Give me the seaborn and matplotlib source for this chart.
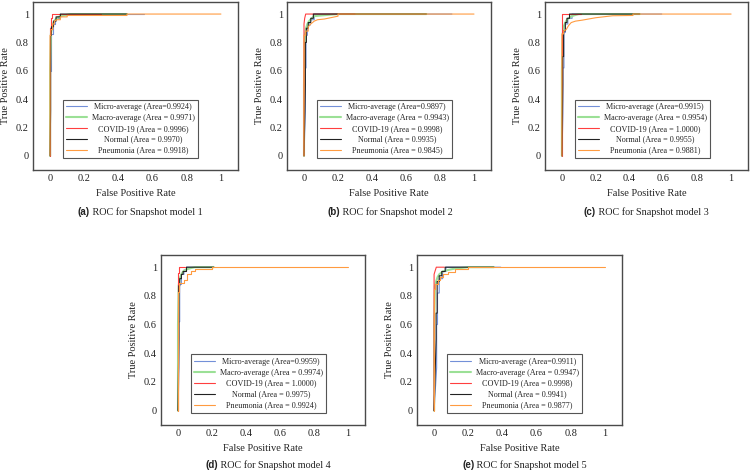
import matplotlib
matplotlib.use("Agg")
import matplotlib.pyplot as plt
import seaborn as sns
from matplotlib.offsetbox import VPacker

# ---------------- data ----------------
CLASS_NAMES = ["Micro-average", "Macro-average", "COVID-19", "Normal", "Pneumonia"]
PANEL_TAGS = ["(a)", "(b)", "(c)", "(d)", "(e)"]
PANEL_TITLES = ["ROC for Snapshot model 1", "ROC for Snapshot model 2", "ROC for Snapshot model 3",
                "ROC for Snapshot model 4", "ROC for Snapshot model 5"]
TICKS = [0, 0.2, 0.4, 0.6, 0.8, 1]
TICK_LABELS = ["0", "0.2", "0.4", "0.6", "0.8", "1"]

AREAS_A = [0.9924, 0.9971, 0.9996, 0.9970, 0.9918]
AREAS_B = [0.9897, 0.9943, 0.9998, 0.9935, 0.9845]
AREAS_C = [0.9915, 0.9954, 1.0000, 0.9955, 0.9881]
AREAS_D = [0.9959, 0.9974, 1.0000, 0.9975, 0.9924]
AREAS_E = [0.9911, 0.9947, 0.9998, 0.9941, 0.9877]

# panel a
A_MICRO_FPR = [0, 0, 0.008, 0.008, 0.015, 0.015, 0.03, 0.03, 0.06, 0.06, 0.1, 0.1, 0.55]
A_MICRO_TPR = [0, 0.6, 0.6, 0.86, 0.86, 0.93, 0.93, 0.97, 0.97, 0.99, 0.99, 1.0, 1.0]
A_MACRO_FPR = [0, 0, 0.005, 0.01, 0.02, 0.03, 0.05, 0.08, 0.12, 0.45]
A_MACRO_TPR = [0, 0.6, 0.86, 0.9, 0.94, 0.96, 0.98, 0.99, 1.0, 1.0]
A_COVID_FPR = [0, 0, 0.004, 0.004, 0.01, 0.01, 0.3]
A_COVID_TPR = [0, 0.9, 0.9, 0.97, 0.97, 1.0, 1.0]
A_NORMAL_FPR = [0, 0.003, 0.003, 0.008, 0.008, 0.02, 0.02, 0.035, 0.035, 0.06, 0.06, 0.45]
A_NORMAL_TPR = [0, 0.32, 0.85, 0.85, 0.91, 0.91, 0.95, 0.95, 0.98, 0.98, 1.0, 1.0]
A_PNEU_FPR = [0, 0, 0.005, 0.005, 0.015, 0.015, 0.025, 0.025, 0.04, 0.06, 0.06, 0.1, 0.1, 0.45, 0.45, 1.0]
A_PNEU_TPR = [0, 0.85, 0.85, 0.89, 0.89, 0.93, 0.93, 0.95, 0.96, 0.96, 0.98, 0.98, 0.99, 0.99, 1.0, 1.0]

# panel b
B_MICRO_FPR = [0, 0.008, 0.008, 0.012, 0.012, 0.02, 0.02, 0.035, 0.035, 0.06, 0.06, 0.87]
B_MICRO_TPR = [0, 0.32, 0.62, 0.62, 0.85, 0.85, 0.92, 0.92, 0.96, 0.96, 1.0, 1.0]
B_MACRO_FPR = [0, 0, 0.005, 0.012, 0.02, 0.03, 0.045, 0.06, 0.1, 0.2, 0.72]
B_MACRO_TPR = [0, 0.5, 0.85, 0.9, 0.93, 0.95, 0.97, 0.985, 0.99, 1.0, 1.0]
B_COVID_FPR = [0, 0, 0.004, 0.01, 0.3]
B_COVID_TPR = [0, 0.93, 0.97, 1.0, 1.0]
B_NORMAL_FPR = [0, 0.008, 0.008, 0.014, 0.014, 0.025, 0.025, 0.04, 0.04, 0.055, 0.055, 0.72]
B_NORMAL_TPR = [0, 0.5, 0.8, 0.8, 0.9, 0.9, 0.94, 0.94, 0.97, 0.97, 1.0, 1.0]
B_PNEU_FPR = [0, 0, 0.01, 0.01, 0.025, 0.025, 0.04, 0.06, 0.08, 0.12, 0.16, 0.2, 0.2, 1.0]
B_PNEU_TPR = [0, 0.85, 0.85, 0.88, 0.88, 0.91, 0.93, 0.95, 0.96, 0.965, 0.975, 0.985, 1.0, 1.0]

# panel c
C_MICRO_FPR = [0, 0.006, 0.006, 0.012, 0.012, 0.02, 0.02, 0.035, 0.035, 0.06, 0.06, 0.59]
C_MICRO_TPR = [0, 0.3, 0.62, 0.62, 0.87, 0.87, 0.93, 0.93, 0.97, 0.97, 1.0, 1.0]
C_MACRO_FPR = [0, 0, 0.005, 0.01, 0.02, 0.03, 0.05, 0.07, 0.1, 0.46]
C_MACRO_TPR = [0, 0.6, 0.86, 0.91, 0.94, 0.96, 0.98, 0.99, 1.0, 1.0]
C_COVID_FPR = [0, 0, 0.003, 0.003, 0.11]
C_COVID_TPR = [0, 0.93, 0.93, 1.0, 1.0]
C_NORMAL_FPR = [0, 0.005, 0.005, 0.01, 0.01, 0.02, 0.02, 0.03, 0.03, 0.045, 0.045, 0.46]
C_NORMAL_TPR = [0, 0.5, 0.7, 0.7, 0.88, 0.88, 0.94, 0.94, 0.97, 0.97, 1.0, 1.0]
C_PNEU_FPR = [0, 0, 0.01, 0.01, 0.025, 0.04, 0.055, 0.08, 0.12, 0.2, 0.3, 0.42, 0.42, 1.0]
C_PNEU_TPR = [0, 0.86, 0.86, 0.88, 0.89, 0.92, 0.94, 0.95, 0.957, 0.974, 0.988, 0.99, 1.0, 1.0]

# panel d
D_MICRO_FPR = [0, 0.006, 0.006, 0.01, 0.01, 0.02, 0.02, 0.035, 0.035, 0.05, 0.05, 0.21]
D_MICRO_TPR = [0, 0.3, 0.62, 0.62, 0.88, 0.88, 0.95, 0.95, 0.98, 0.98, 1.0, 1.0]
D_MACRO_FPR = [0, 0, 0.004, 0.01, 0.02, 0.03, 0.05, 0.08, 0.1, 0.21]
D_MACRO_TPR = [0, 0.6, 0.87, 0.92, 0.95, 0.97, 0.985, 0.995, 1.0, 1.0]
D_COVID_FPR = [0, 0, 0.003, 0.003, 0.04]
D_COVID_TPR = [0, 0.96, 0.96, 1.0, 1.0]
D_NORMAL_FPR = [0, 0.005, 0.005, 0.01, 0.01, 0.02, 0.02, 0.03, 0.03, 0.05, 0.05, 0.21]
D_NORMAL_TPR = [0, 0.5, 0.87, 0.87, 0.92, 0.92, 0.95, 0.95, 0.97, 0.97, 1.0, 1.0]
D_PNEU_FPR = [0, 0, 0.005, 0.005, 0.035, 0.035, 0.055, 0.055, 0.075, 0.075, 0.1, 0.1, 0.2, 0.2, 1.0]
D_PNEU_TPR = [0, 0.83, 0.83, 0.89, 0.89, 0.91, 0.91, 0.95, 0.95, 0.97, 0.97, 0.985, 0.985, 1.0, 1.0]

# panel e
E_MICRO_FPR = [0, 0.015, 0.015, 0.02, 0.02, 0.03, 0.03, 0.05, 0.05, 0.07, 0.07, 0.39]
E_MICRO_TPR = [0, 0.3, 0.6, 0.6, 0.82, 0.82, 0.92, 0.92, 0.97, 0.97, 1.0, 1.0]
E_MACRO_FPR = [0, 0, 0.005, 0.012, 0.02, 0.03, 0.05, 0.08, 0.12, 0.2, 0.35]
E_MACRO_TPR = [0, 0.6, 0.87, 0.9, 0.93, 0.95, 0.97, 0.98, 0.99, 1.0, 1.0]
E_COVID_FPR = [0, 0, 0.005, 0.013, 0.06]
E_COVID_TPR = [0, 0.95, 0.97, 1.0, 1.0]
E_NORMAL_FPR = [0, 0.012, 0.012, 0.018, 0.018, 0.03, 0.03, 0.045, 0.045, 0.065, 0.065, 0.35]
E_NORMAL_TPR = [0, 0.5, 0.68, 0.68, 0.9, 0.9, 0.94, 0.94, 0.97, 0.97, 1.0, 1.0]
E_PNEU_FPR = [0, 0, 0.005, 0.005, 0.02, 0.02, 0.035, 0.035, 0.05, 0.05, 0.08, 0.08, 0.12, 0.12, 0.2, 0.2, 1.0]
E_PNEU_TPR = [0, 0.85, 0.85, 0.88, 0.88, 0.91, 0.91, 0.93, 0.93, 0.95, 0.95, 0.965, 0.965, 0.985, 0.985, 1.0, 1.0]

PANELS = [
    (AREAS_A, [(A_MICRO_FPR, A_MICRO_TPR), (A_MACRO_FPR, A_MACRO_TPR), (A_COVID_FPR, A_COVID_TPR),
               (A_NORMAL_FPR, A_NORMAL_TPR), (A_PNEU_FPR, A_PNEU_TPR)]),
    (AREAS_B, [(B_MICRO_FPR, B_MICRO_TPR), (B_MACRO_FPR, B_MACRO_TPR), (B_COVID_FPR, B_COVID_TPR),
               (B_NORMAL_FPR, B_NORMAL_TPR), (B_PNEU_FPR, B_PNEU_TPR)]),
    (AREAS_C, [(C_MICRO_FPR, C_MICRO_TPR), (C_MACRO_FPR, C_MACRO_TPR), (C_COVID_FPR, C_COVID_TPR),
               (C_NORMAL_FPR, C_NORMAL_TPR), (C_PNEU_FPR, C_PNEU_TPR)]),
    (AREAS_D, [(D_MICRO_FPR, D_MICRO_TPR), (D_MACRO_FPR, D_MACRO_TPR), (D_COVID_FPR, D_COVID_TPR),
               (D_NORMAL_FPR, D_NORMAL_TPR), (D_PNEU_FPR, D_PNEU_TPR)]),
    (AREAS_E, [(E_MICRO_FPR, E_MICRO_TPR), (E_MACRO_FPR, E_MACRO_TPR), (E_COVID_FPR, E_COVID_TPR),
               (E_NORMAL_FPR, E_NORMAL_TPR), (E_PNEU_FPR, E_PNEU_TPR)]),
]

# ---------------- style ----------------
COLORS = ["#7390d8", "#9be096", "#ff3f3f", "#222222", "#ff9b40"]
WIDTHS = [0.8, 1.5, 0.8, 0.8, 0.8]

sns.set_theme(style="white")
plt.rcParams["font.family"] = ["Liberation Serif", "DejaVu Serif"]
plt.rcParams["axes.edgecolor"] = "#4a4a4a"
plt.rcParams["axes.linewidth"] = 1.0

W_PX, H_PX = 750, 471
fig = plt.figure(figsize=(W_PX / 100, H_PX / 100), dpi=100)

# axes boxes in pixels: left, top, right, bottom
BOXES = [(33, 2, 238, 170), (287, 2, 491, 170), (545, 2, 748, 170),
         (161, 255, 365, 425), (417, 255, 622, 425)]
CAPTION_POS = [(140, 212), (390, 212), (646, 212), (268, 465), (524.5, 465)]


def label_for(i, area):
    if i == 0:
        return f"{CLASS_NAMES[i]} (Area={area:.4f})"
    return f"{CLASS_NAMES[i]} (Area = {area:.4f})"


axes = []
for (areas, curves), (l, t, r, b) in zip(PANELS, BOXES):
    ax = fig.add_axes([l / W_PX, 1 - b / H_PX, (r - l) / W_PX, (b - t) / H_PX])
    axes.append(ax)
    for i, (fpr, tpr) in enumerate(curves):
        sns.lineplot(x=fpr, y=tpr, sort=False, estimator=None, color=COLORS[i],
                     linewidth=WIDTHS[i], ax=ax, label=label_for(i, areas[i]))
    ax.set_xlim(-0.1, 1.1)
    ax.set_ylim(-0.1, 1.085)
    ax.set_xticks(TICKS)
    ax.set_xticklabels(TICK_LABELS)
    ax.set_yticks(TICKS)
    ax.set_yticklabels(TICK_LABELS)
    ax.tick_params(length=0, pad=3, labelsize=7.5, colors="#222222")
    ax.set_xlabel("False Positive Rate", fontsize=7.5, labelpad=4, color="#222222")
    ax.set_ylabel("True Positive Rate", fontsize=7.5, labelpad=4, color="#222222")
    leg = ax.legend(loc="lower left", bbox_to_anchor=(0.147, 0.072), fontsize=5.9,
                    frameon=True, fancybox=False, framealpha=1, edgecolor="#555555",
                    borderpad=0.4, labelspacing=0.36, handlelength=2.5, handletextpad=0.6,
                    borderaxespad=0)
    leg.get_frame().set_linewidth(0.8)

renderer = fig.canvas.get_renderer()

# center legend texts inside their column (as in the reference)
for ax in axes:
    leg = ax.get_legend()
    widths = [t.get_window_extent(renderer).width for t in leg.get_texts()]
    wmax = max(widths)
    for col in leg._legend_handle_box.get_children():
        for row in col.get_children():
            kids = row.get_children()
            tb = kids[1]
            vp = VPacker(children=[tb], align="center", width=wmax, pad=0, sep=0)
            vp.set_figure(fig)
            kids[1] = vp

# captions: bold sans tag + serif text, centered
for tag, title, (cx, cy) in zip(PANEL_TAGS, PANEL_TITLES, CAPTION_POS):
    y = 1 - (cy + 3) / H_PX
    t1 = fig.text(0, y, tag, fontsize=7, fontweight="bold",
                  family=["Liberation Sans", "DejaVu Sans"], va="baseline", color="#222222")
    t2 = fig.text(0, y, " " + title, fontsize=7.3,
                  family=["Liberation Serif", "DejaVu Serif"], va="baseline", color="#222222")
    w1 = t1.get_window_extent(renderer).width
    w2 = t2.get_window_extent(renderer).width
    x0 = cx - (w1 + w2) / 2
    t1.set_x(x0 / W_PX)
    t2.set_x((x0 + w1) / W_PX)

fig.savefig("out.png", dpi=100)
